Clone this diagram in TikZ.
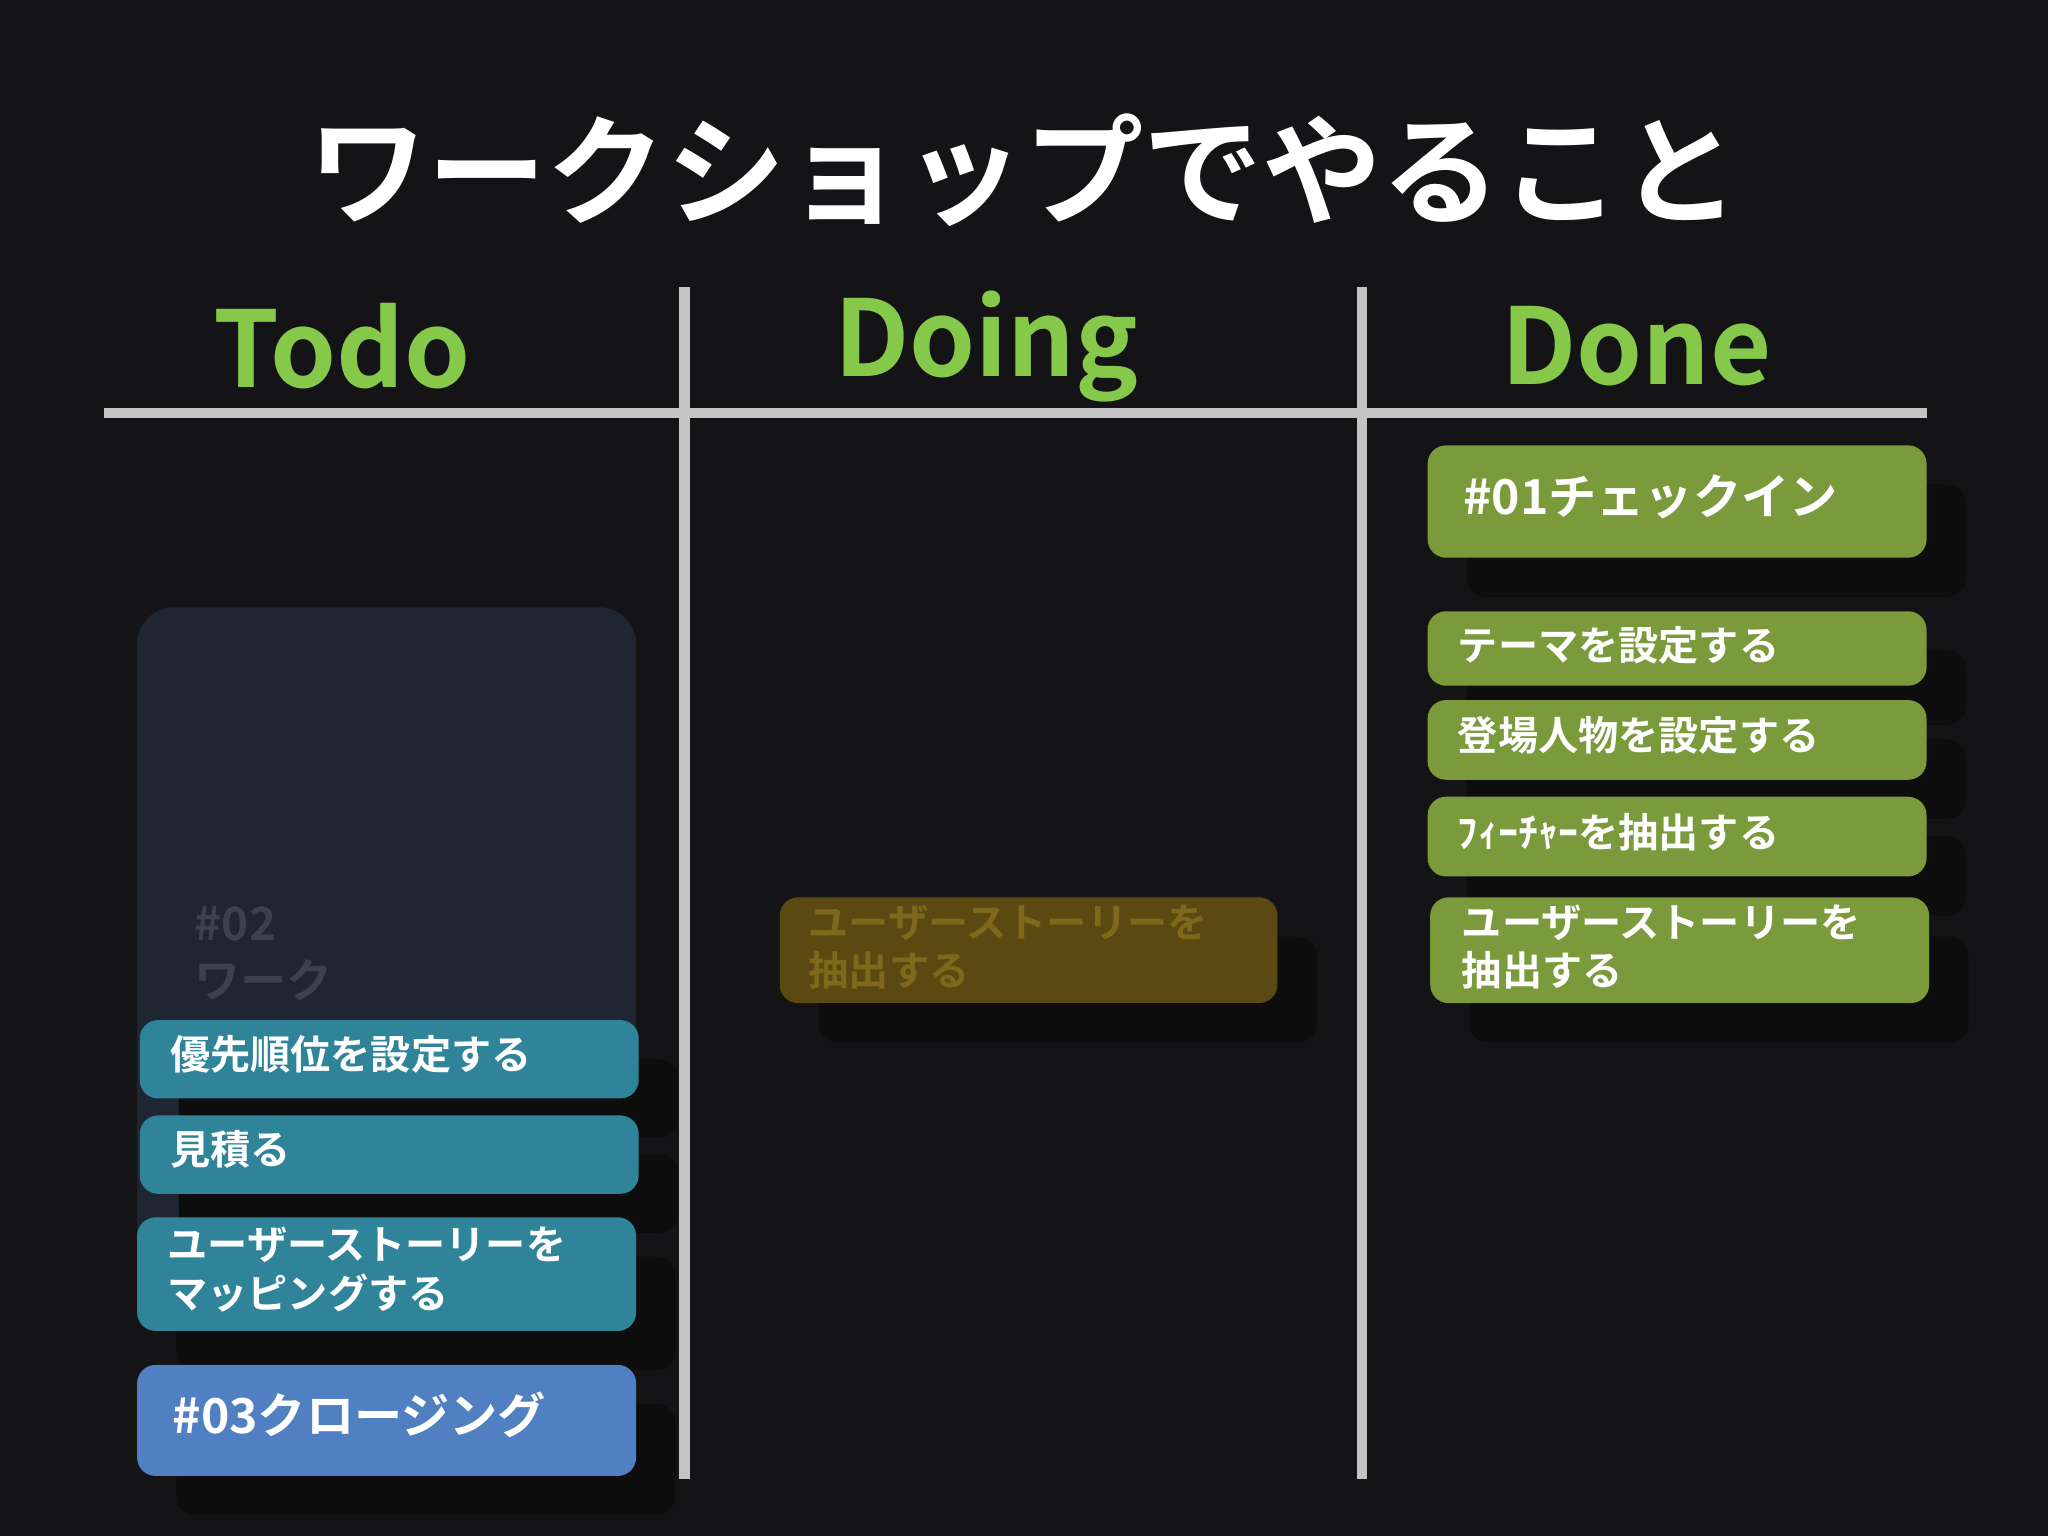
\documentclass[tikz,border=0pt]{standalone}
\usepackage{fontspec}
\setmainfont{Noto Sans CJK JP}[BoldFont={* Bold}]
\newfontfamily\jpb{Noto Sans CJK JP Bold}
\definecolor{bg}{HTML}{141416}
\definecolor{hdr}{HTML}{86C84A}
\definecolor{rule}{HTML}{C4C4C4}
\definecolor{teal}{HTML}{2F8499}
\definecolor{blu}{HTML}{5080C2}
\definecolor{grn}{HTML}{7B9A3C}
\definecolor{olv}{HTML}{5A4A12}
\definecolor{olvt}{HTML}{7D681C}
\definecolor{pan}{HTML}{1F2631}
\definecolor{pant}{HTML}{3C424C}
\definecolor{shd}{HTML}{0D0D0E}
\begin{document}
\begin{tikzpicture}[x=0.02cm,y=-0.02cm,
  card/.style={rounded corners=8pt,inner sep=0},
  ct/.style={text=white,font=\jpb\fontsize{17.5}{21}\selectfont,anchor=west,align=left},
  bt/.style={text=white,font=\jpb\fontsize{21}{25}\selectfont,anchor=west}]
\fill[bg] (0,0) rectangle (1568,1176);
\node[text=white,font=\jpb\fontsize{52}{60}\selectfont] (title) at (784,130) {ワークショップでやること};
\foreach \n/\x/\t in {h1/262/Todo,h2/755/Doing,h3/1253/Done}
  \node[text=hdr,font=\jpb\fontsize{46}{50}\selectfont] (\n) at (\x,265) {\t};
\draw[rule,line width=4.5pt] (80,316) -- (1475,316);
\draw[rule,line width=4.5pt] (524,220) -- (524,1132);
\draw[rule,line width=4.5pt] (1043,220) -- (1043,1132);
% Todo panel
\fill[pan,rounded corners=16pt] (105,465) rectangle (487,1000);
\node[text=pant,font=\jpb\fontsize{20}{25}\selectfont,anchor=north west,align=left] (w2) at (143,688) {\#02\\ワーク};
% shadows
\foreach \a/\b/\c/\d in {137/811/519/871,137/884/519/944,135/962/517/1049,135/1075/517/1160,627/717/1008/798,1123/371/1505/457,1123/498/1505/555,1123/566/1505/627,1123/640/1505/701,1125/717/1507/798}
  \fill[shd,rounded corners=8pt] (\a,\b) rectangle (\c,\d);
% Todo cards
\fill[teal,card] (107,781) rectangle (489,841);
\node[ct] (t1) at (124,807) {優先順位を設定する};
\fill[teal,card] (107,854) rectangle (489,914);
\node[ct] (t2) at (124,880) {見積る};
\fill[teal,card] (105,932) rectangle (487,1019);
\node[ct] (t3) at (122,972) {ユーザーストーリーを\\マッピングする};
\fill[blu,card] (105,1045) rectangle (487,1130);
\node[bt] (t4) at (126,1083) {\#03クロージング};
% Doing
\fill[olv,card] (597,687) rectangle (978,768);
\node[ct,text=olvt] (d1) at (613,725) {ユーザーストーリーを\\抽出する};
% Done
\fill[grn,card] (1093,341) rectangle (1475,427);
\node[bt] (n1) at (1114,380) {\#01チェックイン};
\fill[grn,card] (1093,468) rectangle (1475,525);
\node[ct] (n2) at (1110,494) {テーマを設定する};
\fill[grn,card] (1093,536) rectangle (1475,597);
\node[ct] (n3) at (1110,563) {登場人物を設定する};
\fill[grn,card] (1093,610) rectangle (1475,671);
\node[ct] (n4) at (1110,637) {ﾌｨｰﾁｬｰを抽出する};
\fill[grn,card] (1095,687) rectangle (1477,768);
\node[ct] (n5) at (1113,725) {ユーザーストーリーを\\抽出する};
\end{tikzpicture}
\end{document}
